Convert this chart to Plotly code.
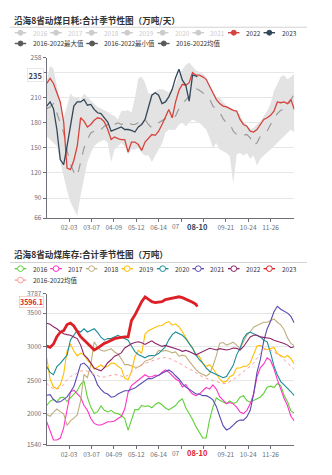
import pandas as pd
import plotly.graph_objects as go

W, H = 332, 475

# ---------------- data ----------------
# day grid: every 5 days from 01-01 (leap-year calendar)
categories = pd.date_range("2020-01-01", periods=74, freq="5D")
last_day = "2020-08-10"
tick_labels = ["02-03", "03-07", "04-09", "05-12", "06-14", "07-17",
               "08-19", "09-21", "10-24", "11-26"]
covered_ticks = ["07-17", "08-19"]   # hidden behind the 08-10 pointer label
partly_visible = "07"                # the part of 07-17 still showing

title_top = "沿海8省动煤日耗:合计季节性图（万吨/天）"
title_bot = "沿海8省动煤库存:合计季节性图（万吨）"
year_names = ["2016", "2017", "2018", "2019", "2020", "2021", "2022", "2023"]
stat_names = ["2016-2022最大值", "2016-2022最小值", "2016-2022均值"]

# daily consumption (万吨/天)
cons_2022 = [227, 233, 227, 216, 205, 181, 126, 124, 135, 152,
             186, 182, 175, 178, 183, 186, 185, 181, 172, 160,
             163, 161, 160, 160, 145, 157, 157, 154, 147, 157,
             161, 166, 165, 170, 178, 188, 196,
             186, 205, 219, 226, 225, 228, 240, 237, 237, 235,
             232, 224, 216, 208, 203, 200, 199, 197, 195, 194,
             184, 178, 176, 170, 169, 172, 178, 184, 186, 189,
             194, 205, 204, 205, 203, 208, 196]
cons_2023 = [200, 205, 197, 172, 136, 130, 152, 178, 200, 205,
             205, 208, 201, 202, 196, 192, 191, 186, 181, 170,
             172, 174, 175, 172, 172, 171, 169, 175, 178, 184,
             198, 213, 216, 213, 203, 205, 211, 220, 234, 244,
             231, 225, 206, 237, 236]
cons_2023_last = 235
cons_mean = [197, 199, 203, 190, 180, 168, 147, 131, 121, 116,
             133, 150, 160, 168, 170, 168, 172, 176, 178, 174,
             178, 180, 178, 180, 182, 178, 178, 180, 184, 184,
             178, 174, 176, 180, 183, 185, 186,
             186, 188, 197, 203, 207, 211, 216, 221, 219, 216,
             212, 209, 200, 197, 193, 185, 180, 179, 170, 166,
             168, 165, 166, 162, 153, 156, 164, 167, 170, 178,
             184, 191, 195, 196, 200, 207, 215]
cons_max = [230, 248, 245, 222, 203, 186, 200, 215, 211, 211,
            207, 215, 211, 207, 203, 199, 197, 195, 193, 190,
            188, 184, 194, 194, 195, 192, 210, 233, 235, 228,
            215, 215, 218, 220, 220, 219, 216,
            221, 227, 238, 244, 249, 252, 247, 243, 241, 239,
            235, 226, 216, 211, 211, 205, 201, 199, 195, 194,
            190, 181, 178, 172, 174, 178, 182, 188, 194, 203,
            218, 226, 235, 237, 232, 235, 239]
cons_min = [164, 160, 156, 152, 133, 115, 99, 85, 76, 69,
            93, 113, 133, 144, 152, 156, 158, 160, 156, 133,
            148, 152, 156, 152, 142, 148, 148, 150, 144, 141,
            141, 133, 141, 148, 155, 168, 172,
            171, 172, 178, 180, 176, 180, 184, 182, 180, 176,
            172, 162, 150, 156, 148, 146, 144, 140, 107, 142,
            144, 141, 144, 137, 141, 129, 137, 141, 144, 148,
            152, 156, 160, 164, 168, 172, 168]

# inventory (万吨)
inv_2016 = [2126, 2190, 2218, 2180, 2243, 2248, 2185, 2238, 2291, 2345,
            2442, 2490, 2248, 2102, 2005, 2034, 2120, 2054, 2029, 2054,
            2015, 2005, 1976, 1932, 1760, 1908, 2064, 2064, 2126, 2112,
            2122, 2092, 2141, 2170, 2136, 2088, 2059, 2092, 2126, 2190,
            2224, 2092, 2015, 1918, 1811, 1714, 1641, 1641, 1908, 2100,
            2238, 2204, 2175, 2155, 2195, 2155, 2175, 2248, 2272, 2199,
            2175, 2199, 2228, 2253, 2306, 2398, 2413, 2393, 2452, 2422,
            2277, 2180, 2044, 2015]
inv_2017 = [1884, 1752, 1612, 1612, 1641, 1792, 2083, 2326, 2355, 2296,
            2248, 2126, 2054, 1932, 1859, 1835, 1835, 1859, 1884, 1884,
            1894, 1932, 1961, 2073, 2320, 2422, 2461, 2500, 2548, 2583,
            2554, 2554, 2578, 2568, 2621, 2655, 2621, 2573, 2520, 2490,
            2403, 2437, 2355, 2296, 2272, 2296, 2345, 2393, 2369, 2432,
            2369, 2257, 2204, 2155, 2170, 2150, 2102, 2029, 2005, 2054,
            2150, 2296, 2554, 2689, 2743, 2835, 2796, 2670, 2510, 2364,
            2228, 2122, 1966, 1898]
inv_2018 = [1990, 1966, 2025, 2073, 2034, 2000, 1830, 1898, 1937, 1986,
            2199, 2587, 2539, 2733, 3073, 2990, 2946, 2932, 2951, 2971,
            2922, 2893, 2820, 2733, 2733, 2709, 2694, 2699, 2728, 2786,
            2806, 2820, 2869, 2946, 2932, 2946, 2932, 2908, 2922, 2859,
            2874, 2859, 2786, 2714, 2660, 2612, 2587, 2563, 2597, 2714,
            2864, 3053, 3063, 3024, 3044, 3068, 3024, 2976, 3073, 3170,
            3219, 3291, 3316, 3340, 3364, 3364, 3388, 3413, 3364, 3325,
            3252, 3131, 3049, 3015]
inv_2019 = [2840, 2515, 2403, 2374, 2432, 2597, 2937, 3039, 2937, 2864,
            2903, 2879, 2801, 2748, 2665, 2694, 2728, 2689, 2709, 2757,
            2752, 2709, 2675, 2529, 2510, 2631, 2850, 2946, 2903, 3189,
            3238, 3262, 3286, 3311, 3316, 3354, 3374, 3320, 3340, 3296,
            3223, 3131, 3053, 2985, 2879, 2854, 2757, 2709, 2733, 2675,
            2592, 2520, 2471, 2486, 2554, 2583, 2684, 2684, 2709, 2709,
            2757, 2879, 3010, 3020, 2976, 2956, 2976, 2990, 2898, 2869,
            2840, 2869, 2825, 2743]
inv_2020 = [2704, 2617, 2583, 2704, 2752, 2811, 2874, 3102, 3175, 3243,
            3219, 3267, 3219, 3243, 3267, 3214, 3141, 3097, 3121, 3121,
            3151, 3170, 3146, 3117, 3097, 3010, 2927, 2884, 2859, 2835,
            2864, 2864, 2874, 2898, 2942, 3000, 3102, 3180, 3219, 3194,
            3170, 3121, 3053, 2976, 2879, 2806, 2757, 2684, 2636, 2617,
            2587, 2563, 2539, 2558, 2631, 2723, 2879, 2976, 3121, 3194,
            3219, 3194, 3170, 3146, 3097, 3073, 2908, 2714, 2578, 2481,
            2432, 2384, 2330, 2272]
inv_2021 = [2277, 2287, 2214, 2175, 2180, 2214, 2253, 2326, 2408, 2568,
            2738, 2757, 2709, 2636, 2563, 2432, 2364, 2316, 2296, 2248,
            2258, 2296, 2326, 2345, 2345, 2359, 2384, 2423, 2456, 2500,
            2529, 2524, 2553, 2583, 2607, 2631, 2655, 2621, 2568, 2520,
            2452, 2398, 2369, 2326, 2296, 2296, 2272, 2272, 2248, 2209,
            2112, 1966, 1825, 1762, 1787, 1835, 1884, 1908, 1908, 1956,
            2054, 2296, 2617, 2811, 3092, 3267, 3379, 3519, 3602, 3558,
            3534, 3500, 3451, 3354]
inv_2022 = [3350, 3335, 3296, 3267, 3223, 3194, 3180, 3170, 3146, 3121,
            3024, 2879, 2830, 2757, 2684, 2660, 2641, 2689, 2762, 2806,
            2859, 2879, 2908, 2981, 3015, 3044, 3063, 3073, 3058, 3034,
            3063, 3088, 3053, 3029, 3005, 3020, 3005, 2981, 2976, 2956,
            2932, 2946, 2927, 2903, 2879, 2903, 2927, 2951, 2976, 2966,
            2951, 2971, 2966, 2951, 2961, 2981, 2976, 2951, 3000, 3073,
            3146, 3170, 3170, 3146, 3136, 3121, 3121, 3097, 3083, 3073,
            3049, 3024, 2985, 3000]
inv_2023 = [3010, 2990, 3040, 3150, 3215, 3240, 3330, 3350, 3310, 3230,
            3150, 3100, 3050, 3000, 2950, 2980, 3020, 3050, 3070, 3100,
            3120, 3130, 3140, 3145, 3146, 3390, 3470, 3580, 3670, 3740,
            3710, 3670, 3655, 3660, 3670, 3700, 3713, 3725, 3740, 3743,
            3730, 3710, 3690, 3660, 3630]
inv_2023_last = 3596.1
inv_mean = [2457, 2403, 2379, 2369, 2393, 2437, 2510, 2558, 2578, 2612,
            2636, 2646, 2636, 2612, 2587, 2563, 2549, 2549, 2563, 2578,
            2587, 2578, 2563, 2549, 2578, 2631, 2670, 2699, 2733, 2752,
            2772, 2786, 2806, 2820, 2830, 2840, 2830, 2811, 2782, 2757,
            2733, 2694, 2675, 2646, 2612, 2578, 2549, 2529, 2515, 2505,
            2481, 2466, 2452, 2452, 2476, 2510, 2549, 2587, 2626, 2660,
            2709, 2757, 2835, 2903, 2951, 2966, 2951, 2927, 2888, 2854,
            2806, 2757, 2709, 2660]

# ---------------- styles ----------------
FONT = "Noto Sans CJK SC, Noto Sans, sans-serif"
AX = "#6e7079"
GRID = "#e6e6e6"
C22_TOP = "#d6433d"
C23_TOP = "#33475b"
C_STAT = "#5a5a5a"
RED_PTR = "#e0242b"
inv_colors = ["#5fd03a", "#ff33c8", "#bfae7e", "#ffbf00", "#1b8c99",
              "#5b4bb0", "#8c2468", "#dd1f26"]
C_MEAN_BOT = "#ff9c9c"

x_all = list(categories)
x_23 = list(categories[:len(cons_2023)]) + [pd.Timestamp(last_day)]

fig = go.Figure()

# ---- top chart ----
fig.add_trace(go.Scatter(x=x_all, y=cons_min, mode="lines",
                         line=dict(width=0, color="rgba(0,0,0,0)"),
                         xaxis="x", yaxis="y", hoverinfo="skip"))
fig.add_trace(go.Scatter(x=x_all, y=cons_max, mode="lines",
                         line=dict(width=0, color="rgba(0,0,0,0)"),
                         fill="tonexty", fillcolor="#e3e3e3",
                         xaxis="x", yaxis="y", hoverinfo="skip"))
fig.add_trace(go.Scatter(x=x_all, y=cons_mean, mode="lines",
                         line=dict(width=1.2, color="#9a9a9a", dash="dash"),
                         xaxis="x", yaxis="y"))
fig.add_trace(go.Scatter(x=x_all, y=cons_2022, mode="lines",
                         line=dict(width=1.3, color=C22_TOP),
                         xaxis="x", yaxis="y"))
fig.add_trace(go.Scatter(x=x_23, y=cons_2023 + [cons_2023_last], mode="lines",
                         line=dict(width=1.3, color=C23_TOP),
                         xaxis="x", yaxis="y"))

# ---- bottom chart ----
inv_series = [inv_2016, inv_2017, inv_2018, inv_2019, inv_2020, inv_2021, inv_2022]
for vals, col in zip(inv_series, inv_colors[:7]):
    fig.add_trace(go.Scatter(x=x_all, y=vals, mode="lines",
                             line=dict(width=1.1, color=col),
                             xaxis="x2", yaxis="y2"))
fig.add_trace(go.Scatter(x=x_all, y=inv_mean, mode="lines",
                         line=dict(width=1, color=C_MEAN_BOT, dash="dot"),
                         xaxis="x2", yaxis="y2"))
fig.add_trace(go.Scatter(x=x_23, y=inv_2023 + [inv_2023_last], mode="lines",
                         line=dict(width=2.8, color=inv_colors[7]),
                         xaxis="x2", yaxis="y2"))

# ---------------- layout ----------------
x_dom = [46.7 / W, 294.3 / W]
tickvals_x = ["2020-" + t for t in tick_labels]
ticktext_x = ["" if t in covered_ticks else t for t in tick_labels]

def xaxis_cfg(anchor):
    return dict(domain=x_dom, anchor=anchor, type="date",
                range=["2020-01-01", "2020-12-31"],
                tickmode="array", tickvals=tickvals_x, ticktext=ticktext_x,
                showgrid=False, showline=True, linecolor=AX, linewidth=1,
                ticks="outside", ticklen=3, tickcolor=AX,
                tickfont=dict(size=6.5, color=AX, family=FONT),
                zeroline=False)

top_ticks = [66, 90, 120, 150, 180, 210, 240, 258]
top_text = ["66", "90", "120", "150", "180", "210", "", "258"]
bot_ticks = [1540, 2000, 2500, 3000, 3500, 3787]

def yaxis_cfg(anchor, dom, rng, tv, tt):
    return dict(domain=dom, anchor=anchor, range=rng,
                tickmode="array", tickvals=tv, ticktext=tt,
                showgrid=True, gridcolor=GRID, gridwidth=1,
                showline=True, linecolor=AX, linewidth=1,
                ticks="outside", ticklen=3, tickcolor=AX,
                tickfont=dict(size=6.5, color=AX, family=FONT),
                zeroline=False)

shapes = []
annotations = []

def PX(x):
    return x / W

def PY(y):
    return 1 - y / H

# titles and separators
for title, ty, ly in [(title_top, 14, 21.7), (title_bot, 253.3, 262)]:
    annotations.append(dict(text="<b>" + title + "</b>", x=PX(12), y=PY(ty),
                            xref="paper", yref="paper", xanchor="left",
                            yanchor="middle", showarrow=False,
                            font=dict(size=8.6, color="#333333", family=FONT)))
    shapes.append(dict(type="line", xref="paper", yref="paper",
                       x0=PX(10), x1=PX(307), y0=PY(ly), y1=PY(ly),
                       line=dict(color="#d2d2d2", width=1)))

def legend_item(text_left, row_y, label, color, text_color, filled, r):
    yy = PY(row_y)
    shapes.append(dict(type="line", xref="paper", yref="paper",
                       x0=PX(text_left - 17), x1=PX(text_left - 5.5),
                       y0=yy, y1=yy, line=dict(color=color, width=1.4)))
    cx = text_left - 11.2
    shapes.append(dict(type="circle", xref="paper", yref="paper",
                       x0=PX(cx - r), x1=PX(cx + r),
                       y0=PY(row_y + r), y1=PY(row_y - r),
                       fillcolor=color if filled else "white",
                       line=dict(color=color, width=1)))
    annotations.append(dict(text=label, x=PX(text_left - 1), y=yy,
                            xref="paper", yref="paper", xanchor="left",
                            yanchor="middle", showarrow=False,
                            font=dict(size=6.5, color=text_color, family=FONT)))

step = 35.55
# top legend
for i, name in enumerate(year_names):
    if i < 6:
        col, tcol = "#cccccc", "#cccccc"
    elif i == 6:
        col, tcol = C22_TOP, "#333333"
    else:
        col, tcol = C23_TOP, "#333333"
    legend_item(31.7 + step * i, 27.3, name, col, tcol, True, 2.5)
for tl, name in zip([31.7, 103.3, 175.0], stat_names):
    legend_item(tl, 38.3, name, C_STAT, "#333333", True, 2.5)

# bottom legend
for i, name in enumerate(year_names):
    legend_item(31.7 + step * i, 268.3, name, inv_colors[i], "#333333", False, 2.9)
legend_item(31.7, 280, stat_names[2], C_MEAN_BOT, "#333333", False, 2.9)

# axis pointer labels and the partly covered 07-17 label
for xref, ylab, col in [("x", 224.8, C23_TOP), ("x2", 456.2, RED_PTR)]:
    annotations.append(dict(text=partly_visible, x=PX(176.3), y=PY(ylab),
                            xref="paper", yref="paper", xanchor="center",
                            yanchor="middle", showarrow=False,
                            font=dict(size=6.5, color=AX, family=FONT)))
    annotations.append(dict(text="<b>08-10</b>", x=last_day, y=PY(ylab),
                            xref=xref, yref="paper", xanchor="center",
                            yanchor="middle", showarrow=False, borderpad=1,
                            font=dict(size=7.5, color=col, family=FONT)))

annotations.append(dict(text="<b>%d</b>" % cons_2023_last, x=PX(43.5), y=cons_2023_last,
                        xref="paper", yref="y", xanchor="right", yanchor="middle",
                        yshift=2, showarrow=False, bgcolor="white",
                        bordercolor="#d9d9d9", borderwidth=0.6, borderpad=1.0,
                        font=dict(size=7.5, color=C23_TOP, family=FONT)))
annotations.append(dict(text="<b>%.1f</b>" % inv_2023_last, x=PX(44), y=inv_2023_last,
                        xref="paper", yref="y2", xanchor="right", yanchor="middle",
                        yshift=5, showarrow=False, bgcolor="white",
                        bordercolor="#f2b0b0", borderwidth=0.6, borderpad=0.4,
                        font=dict(size=7, color=RED_PTR, family=FONT)))

fig.update_layout(
    width=W, height=H,
    margin=dict(l=0, r=0, t=0, b=0),
    paper_bgcolor="white", plot_bgcolor="white",
    showlegend=False,
    font=dict(family=FONT, size=6.5, color="#333333"),
    xaxis=xaxis_cfg("y"),
    yaxis=yaxis_cfg("x", [(H - 216.7) / H, (H - 52.7) / H], [66, 258], top_ticks, top_text),
    xaxis2=xaxis_cfg("y2"),
    yaxis2=yaxis_cfg("x2", [(H - 448.3) / H, (H - 294) / H], [1540, 3787],
                     bot_ticks, [str(v) for v in bot_ticks]),
    shapes=shapes,
    annotations=annotations,
)

fig.write_html("out.html")
